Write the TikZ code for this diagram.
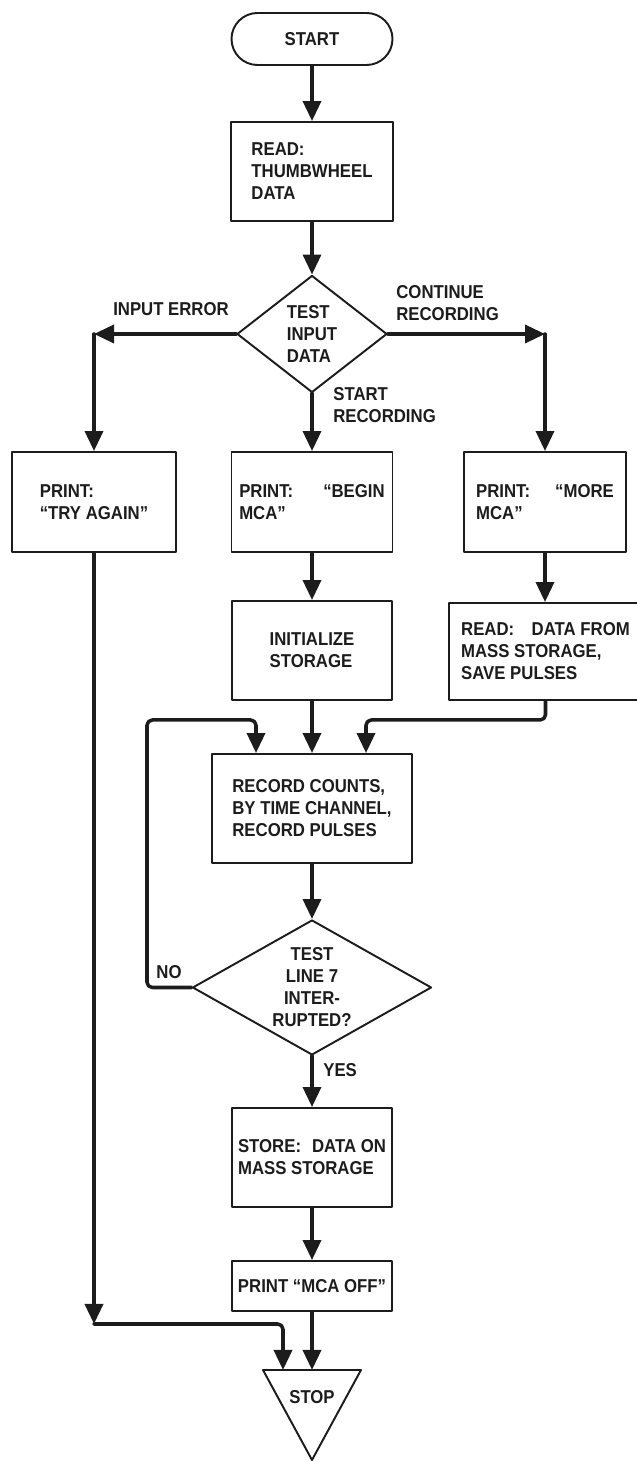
\documentclass[tikz,border=0pt]{standalone}
\usepackage{fontspec}
\setmainfont{Liberation Sans}[FakeStretch=0.9]
\usetikzlibrary{arrows.meta,shapes.geometric}
\definecolor{ink}{HTML}{1C1C1C}
\tikzset{
  every picture/.style={line join=round, line cap=round, >=Stealth},
  txt/.style={font=\fontsize{10.6}{12.5}\selectfont\bfseries, text=ink},
  lbl/.style={txt, inner sep=0pt, align=left},
  box/.style={txt, draw=ink, line width=1.1pt, rectangle, align=left, inner sep=0.06cm},
  term/.style={box, rounded corners=0.52cm, minimum width=3.22cm, minimum height=1.04cm},
  test/.style={txt, draw=ink, line width=1.1pt, diamond, inner sep=0pt},
  flow/.style={draw=ink, line width=2pt, -{Triangle[length=0.4cm,width=0.36cm]}},
}

\begin{document}
\begin{tikzpicture}
\useasboundingbox (0,0) rectangle (12.74,29.24);
\node[term] (start) at (6.240,28.460) {START};
\node[box,minimum width=3.24cm,minimum height=1.98cm] (read) at (6.240,25.810) {READ:\\THUMBWHEEL\\DATA};
\node[test,align=left,aspect=1.28,minimum width=3.0cm,minimum height=2.34cm] (testin) at (6.240,22.560) {TEST\\INPUT\\DATA};
\node[box,minimum width=3.28cm,minimum height=2.0cm] (tryagain) at (1.880,19.200) {PRINT:\\``TRY AGAIN''};
\node[box,minimum width=3.22cm,minimum height=2.0cm] (beginmca) at (6.240,19.200) {PRINT:\hspace{0.6cm}``BEGIN\\MCA''};
\node[box,minimum width=3.24cm,minimum height=2.0cm] (moremca) at (10.900,19.200) {PRINT:\hspace{0.5cm}``MORE\\MCA''};
\node[box,minimum width=3.2cm,minimum height=1.98cm] (initst) at (6.240,16.230) {INITIALIZE\\STORAGE};
\node[box,minimum width=3.86cm,minimum height=1.94cm] (readms) at (10.910,16.210) {READ:\hspace{0.35cm}DATA FROM\\MASS STORAGE,\\SAVE PULSES};
\node[box,minimum width=4.0cm,minimum height=2.18cm] (record) at (6.240,13.070) {RECORD COUNTS,\\BY TIME CHANNEL,\\RECORD PULSES};
\node[test,align=center,aspect=1.77,minimum width=4.78cm,minimum height=2.7cm] (testln) at (6.240,9.490) {TEST\\LINE 7\\INTER-\\RUPTED?};
\node[box,minimum width=3.2cm,minimum height=1.98cm] (store) at (6.240,6.090) {STORE:\hspace{0.22cm}DATA ON\\MASS STORAGE};
\node[box,minimum width=3.2cm,minimum height=1.0cm] (mcaoff) at (6.240,3.520) {PRINT ``MCA OFF''};
\draw[ink,line width=1.1pt] (5.260,1.840) -- (7.220,1.840) -- (6.240,0.040) -- cycle;
\node[txt] (stop) at (6.240,1.300) {STOP};
\node[lbl] (errlbl) at (3.420,23.060) {INPUT ERROR};
\node[lbl,anchor=west] (contlbl) at (7.920,23.180) {CONTINUE\\RECORDING};
\node[lbl,anchor=west] (startlbl) at (6.660,21.140) {START\\RECORDING};
\node[lbl] (nolbl) at (3.380,9.800) {NO};
\node[lbl,anchor=west] (yeslbl) at (6.460,7.840) {YES};
\coordinate (errc) at (1.880,22.560);
\coordinate (contc) at (10.900,22.560);
\coordinate (noloop) at (2.940,14.840);
\coordinate (noin) at (5.120,14.840);
\coordinate (msin) at (7.320,14.840);
\coordinate (errdown) at (1.880,2.760);
\coordinate (stopin) at (5.660,1.840);
\coordinate (stoptop) at (6.240,1.840);
\draw[flow] (start) -- (read);
\draw[flow] (read) -- (testin);
\draw[flow] (testin.west) -- (errc);
\draw[flow] (errc) -- (tryagain);
\draw[flow] (testin.east) -- (contc);
\draw[flow] (contc) -- (moremca);
\draw[flow] (testin.south) -- (beginmca);
\draw[flow] (beginmca) -- (initst);
\draw[flow] (moremca.south) -- (moremca.south |- readms.north);
\draw[flow] (initst) -- (record);
\draw[flow,rounded corners=3pt] (readms.south) |- (msin) -- (msin |- record.north);
\draw[flow,rounded corners=3pt] (testln.west) -| (noloop) -- (noin) -- (noin |- record.north);
\draw[flow] (record) -- (testln);
\draw[flow] (testln.south) -- (store);
\draw[flow] (store) -- (mcaoff);
\draw[flow] (mcaoff) -- (stoptop);
\draw[flow] (tryagain) -- (errdown);
\draw[flow,rounded corners=3pt] (errdown) -| (stopin);
\end{tikzpicture}
\end{document}
